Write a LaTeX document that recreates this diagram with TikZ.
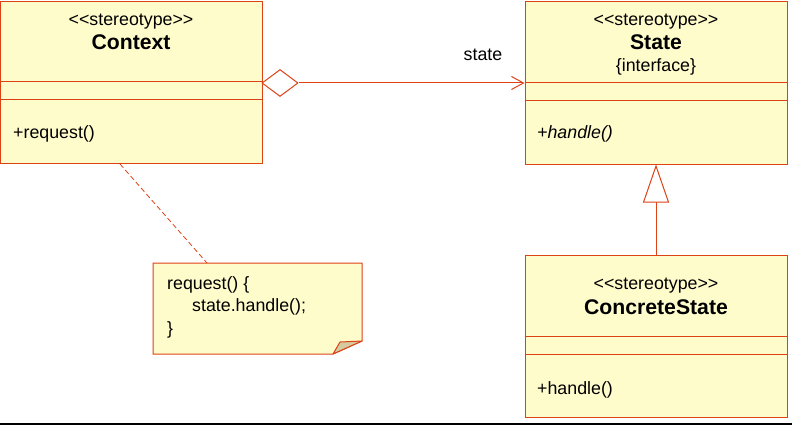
\documentclass[tikz,border=0pt]{standalone}
\usepackage{fontspec}
\setmainfont{Liberation Sans}
\usetikzlibrary{arrows.meta,shapes.geometric,positioning}
\definecolor{umlred}{RGB}{220,66,22}
\definecolor{umlfill}{RGB}{255,252,204}
\definecolor{foldfill}{RGB}{214,202,160}
\definecolor{baseline}{RGB}{40,56,62}
\def\txt{\fontsize{17.8}{21}\selectfont}
\def\ttl{\fontsize{21.2}{25}\selectfont\bfseries}
\def\stereo{\txt{<}{<}stereotype{>}{>}}

\begin{document}
\begin{tikzpicture}[x=1pt,y=-1pt,
  classbox/.style={draw=umlred,fill=umlfill,line width=1pt,inner sep=0pt,minimum width=262pt,minimum height=162pt},
  umlline/.style={draw=umlred,line width=1pt},
  lbl/.style={inner sep=0pt,anchor=base},
  lblw/.style={inner sep=0pt,anchor=base west},
  aggr/.style={diamond,draw=umlred,fill=white,line width=1pt,inner sep=0pt,minimum width=36pt,minimum height=27pt}]
          \useasboundingbox (0,0) rectangle (792,425);
          \fill [baseline] (0,422.5) rectangle (792,425);

          \node [classbox] (ctx) at (131.5,82.5) {};
          \draw [umlline] ([yshift=-80.5pt]ctx.north west) -- ([yshift=-80.5pt]ctx.north east);
          \draw [umlline] ([yshift=-98.5pt]ctx.north west) -- ([yshift=-98.5pt]ctx.north east);
          \node [lbl] (ctxstereo) at (131,26) {\stereo};
          \node [lbl] (ctxname) at (131,50) {\ttl Context};
          \node [lblw] (ctxop) at (13,139) {\txt +request()};

          \node [classbox] (st) at (656,83) {};
          \draw [umlline] ([yshift=-81pt]st.north west) -- ([yshift=-81pt]st.north east);
          \draw [umlline] ([yshift=-99pt]st.north west) -- ([yshift=-99pt]st.north east);
          \node [lbl] (ststereo) at (656,26) {\stereo};
          \node [lbl] (stname) at (656,50) {\ttl State};
          \node [lbl] (stiface) at (656,72) {\txt \{interface\}};
          \node [lblw] (stop) at (537,139) {\txt\itshape +handle()};

          \node [classbox] (cst) at (656,336.5) {};
          \draw [umlline] ([yshift=-81pt]cst.north west) -- ([yshift=-81pt]cst.north east);
          \draw [umlline] ([yshift=-99pt]cst.north west) -- ([yshift=-99pt]cst.north east);
          \node [lbl] (cststereo) at (656,289) {\stereo};
          \node [lbl] (cstname) at (656,314) {\ttl ConcreteState};
          \node [lblw] (cstop) at (537,394) {\txt +handle()};

          \node [aggr] (agg) at (280,83) {};
          \draw [umlline,-{Straight Barb[length=12pt,width=13pt]}] (agg.east) -- (agg.east -| st.west);
          \node [lbl] (role) at (483,61) {\txt state};

          \draw [umlline,-{Triangle[length=38pt,width=26pt,fill=white]}] (cst.north) -- (st.south);

          \draw [umlline,fill=umlfill] (153,263) -- (362,263) -- (362,341) -- (333,354) -- (153,354) -- cycle;
          \draw [umlline,fill=foldfill,line join=round] (362,341) -- (340,342) -- (333,354) -- cycle;
          \node [lblw] (notea) at (167,289) {\txt request() \{};
          \node [lblw] (noteb) at (192,311.5) {\txt state.handle();};
          \node [lblw] (notec) at (167,334) {\txt \}};

          \coordinate (ctxfoot) at (120,164);
          \coordinate (notetop) at (207,263);
          \draw [umlline,line width=0.8pt,dash pattern=on 5pt off 3pt] (ctxfoot) -- (notetop);
	\end{tikzpicture}
\end{document}
